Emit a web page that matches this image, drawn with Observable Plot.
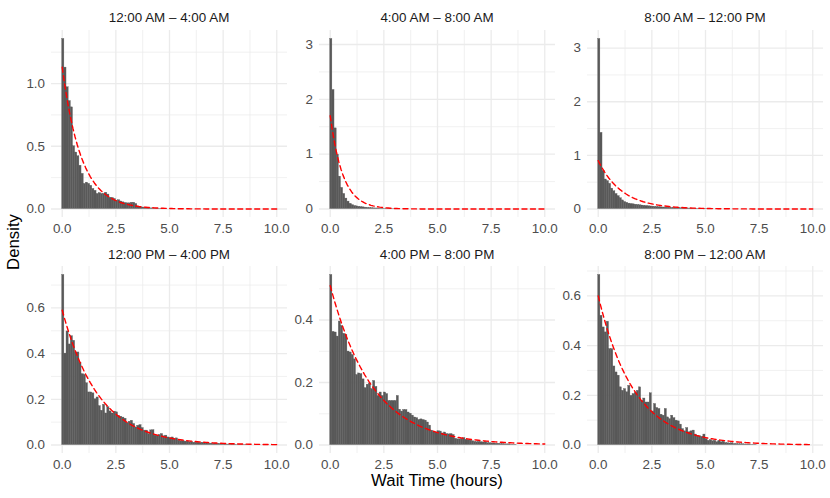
<!DOCTYPE html>
<html><head><meta charset="utf-8">
<script src="https://cdn.jsdelivr.net/npm/d3@7"></script>
<script src="https://cdn.jsdelivr.net/npm/@observablehq/plot@0.6"></script>
<style>
body{margin:0;background:#fff;}
#root{position:relative;width:830px;height:498px;font-family:"Liberation Sans",Arial,sans-serif;overflow:hidden;background:#fff}
.strip{position:absolute;font-size:13.4px;color:#1a1a1a;text-align:center;width:236px;line-height:16px;white-space:nowrap}
.panel{position:absolute}
.axtitle{position:absolute;font-size:16.8px;color:#000;line-height:20px;white-space:nowrap}
</style></head><body><div id="root"></div>
<script>
const titles = ["12:00 AM – 4:00 AM", "4:00 AM – 8:00 AM", "8:00 AM – 12:00 PM",
                "12:00 PM – 4:00 PM", "4:00 PM – 8:00 PM", "8:00 PM – 12:00 AM"];
const binWidth = 0.1;
const xTicks = [0, 2.5, 5, 7.5, 10];
const xMinor = [1.25, 3.75, 6.25, 8.75];

const dens1 = [1.355,1.127,0.97,0.86,0.81,0.50,0.45,0.42,0.345,0.28,0.20,0.21,0.20,0.185,0.16,0.145,0.12,0.127,0.12,0.12,
  0.13,0.115,0.09,0.088,0.08,0.066,0.07,0.06,0.053,0.048,0.045,0.045,0.05,0.05,0.04,0.02,0.015,0.012,0.01,0.008,
  0.006,0.005,0.003,0.003,0.002,0.002,0.001,0.001];
const dens2 = [3.10,2.17,1.47,0.99,0.59,0.385,0.275,0.19,0.135,0.095,0.07,0.055,0.048,0.04,0.035,0.03,0.025,0.02,0.018,0.015,
  0.012,0.01,0.008,0.006,0.005,0.004,0.003,0.002,0.002,0.001];
const dens3 = [3.17,1.42,0.71,0.55,0.52,0.47,0.38,0.33,0.28,0.24,0.2,0.16,0.13,0.115,0.1,0.093,0.087,0.08,0.075,0.07,
  0.065,0.06,0.055,0.05,0.047,0.044,0.04,0.037,0.034,0.03,0.028,0.026,0.024,0.022,0.02,0.018,0.017,0.015,0.014,0.012,
  0.011,0.01,0.009,0.008,0.007,0.006,0.005,0.004,0.004,0.003,0.003,0.002,0.002,0.001];
const dens4 = [0.744,0.40,0.497,0.44,0.476,0.456,0.405,0.405,0.36,0.31,0.307,0.27,0.23,0.23,0.226,0.20,0.208,0.17,0.15,0.176,
  0.138,0.165,0.147,0.138,0.146,0.143,0.128,0.124,0.12,0.115,0.095,0.102,0.106,0.092,0.077,0.084,0.087,0.074,0.063,0.063,
  0.048,0.064,0.065,0.041,0.041,0.044,0.048,0.038,0.041,0.033,0.03,0.033,0.026,0.029,0.019,0.017,0.017,0.015,0.015,0.012,
  0.013,0.01,0.01,0.01,0.009,0.01,0.007,0.007,0.006,0.006,0.005,0.006,0.005,0.005,0.003,0.003,0.002,0.002,0.002,0.002,
  0.002,0.001,0.001,0.001,0.001,0.001,0.001];
const dens5 = [0.544,0.362,0.36,0.347,0.395,0.381,0.356,0.352,0.299,0.296,0.288,0.274,0.224,0.229,0.227,0.21,0.182,0.193,0.197,0.179,
  0.205,0.186,0.157,0.168,0.157,0.168,0.163,0.141,0.141,0.141,0.141,0.157,0.113,0.107,0.112,0.112,0.104,0.1,0.094,0.088,
  0.086,0.08,0.082,0.08,0.078,0.072,0.062,0.046,0.04,0.04,0.044,0.043,0.037,0.04,0.035,0.034,0.035,0.032,0.02,0.018,
  0.018,0.02,0.022,0.017,0.016,0.014,0.012,0.01,0.009,0.01,0.009,0.008,0.009,0.006,0.006,0.005,0.005,0.004,0.004,0.003,
  0.003,0.002,0.002,0.002,0.001,0.001,0.001];
const dens6 = [0.684,0.52,0.473,0.453,0.496,0.386,0.386,0.316,0.292,0.279,0.232,0.218,0.225,0.212,0.238,0.198,0.205,0.209,0.218,0.232,
  0.178,0.187,0.171,0.171,0.208,0.135,0.165,0.149,0.145,0.122,0.118,0.145,0.111,0.104,0.118,0.108,0.098,0.095,0.082,0.064,
  0.055,0.068,0.051,0.055,0.058,0.042,0.037,0.035,0.033,0.042,0.024,0.017,0.02,0.015,0.017,0.011,0.017,0.011,0.013,0.008,
  0.007,0.006,0.007,0.004,0.004,0.003,0.003,0.003,0.002,0.002,0.002,0.001,0.001,0.001];
const densities = [dens1, dens2, dens3, dens4, dens5, dens6];
const rates = [1.13, 1.70, 0.90, 0.59, 0.51, 0.60];
const yTicks = [[0,0.5,1],[0,1,2,3],[0,1,2,3],[0,0.2,0.4,0.6],[0,0.2,0.4],[0,0.2,0.4,0.6]];
const yMinor = [[0.25,0.75,1.25],[0.5,1.5,2.5],[0.5,1.5,2.5],[0.1,0.3,0.5,0.7],[0.1,0.3,0.5],[0.1,0.3,0.5,0.7]];
const yFormats = [".1f", "d", "d", ".1f", ".1f", ".1f"];

const colLeft = [51, 319, 587];
const rowTop = [30, 266];
const pw = 236, ph = 187;
const mL = 42, mR = 8, mT = 2, mB = 28;
const root = document.getElementById("root");

densities.forEach((vals, i) => {
  const col = i % 3, row = Math.floor(i / 3);
  const bars = vals.map((v, k) => ({x1: k * binWidth, x2: (k + 1) * binWidth, y: v}));
  const rate = rates[i];
  const curve = d3.range(0, 101).map(j => { const x = j * 0.1; return {x, y: rate * Math.exp(-rate * x)}; });
  const m = Math.max(d3.max(vals), rate);
  const yDom = [-0.05 * m, 1.05 * m];
  const minor = yMinor[i].filter(t => t <= yDom[1]);
  const chart = Plot.plot({
    width: pw + mL + mR, height: ph + mT + mB,
    marginLeft: mL, marginRight: mR, marginTop: mT, marginBottom: mB,
    x: {domain: [-0.5, 10.5]},
    y: {domain: yDom},
    style: {fontFamily: "Liberation Sans, Arial, sans-serif", fontSize: "13.4px", color: "#4D4D4D", background: "transparent", overflow: "visible"},
    marks: [
      Plot.ruleY(minor, {stroke: "#EBEBEB", strokeWidth: 0.7}),
      Plot.ruleX(xMinor, {stroke: "#EBEBEB", strokeWidth: 0.7}),
      Plot.ruleY(yTicks[i], {stroke: "#EBEBEB", strokeWidth: 1.3}),
      Plot.ruleX(xTicks, {stroke: "#EBEBEB", strokeWidth: 1.3}),
      Plot.rect(bars, {x1: "x1", x2: "x2", y1: 0, y2: "y", fill: "#595959", stroke: "#595959", strokeWidth: 0.35}),
      Plot.line(curve, {x: "x", y: "y", stroke: "#FF0000", strokeWidth: 1.4, strokeDasharray: "5,3.5"}),
      Plot.axisX(xTicks, {tickSize: 0, tickPadding: 6, tickFormat: d3.format(".1f"), label: null}),
      Plot.axisY(yTicks[i], {tickSize: 0, tickPadding: 6.5, tickFormat: d3.format(yFormats[i]), label: null})
    ]
  });
  chart.classList.add("panel");
  chart.style.left = (colLeft[col] - mL) + "px";
  chart.style.top = (rowTop[row] - mT) + "px";
  root.appendChild(chart);

  const s = document.createElement("div");
  s.className = "strip";
  s.textContent = titles[i];
  s.style.left = colLeft[col] + "px";
  s.style.top = (row === 0 ? 10 : 247) + "px";
  root.appendChild(s);
});

const xt = document.createElement("div");
xt.className = "axtitle";
xt.textContent = "Wait Time (hours)";
xt.style.left = "0px"; xt.style.width = "874px"; xt.style.textAlign = "center";
xt.style.top = "471px";
root.appendChild(xt);

const yt = document.createElement("div");
yt.className = "axtitle";
yt.textContent = "Density";
yt.style.left = "13.5px"; yt.style.top = "242px";
yt.style.transform = "translate(-50%,-50%) rotate(-90deg)";
root.appendChild(yt);
</script></body></html>
